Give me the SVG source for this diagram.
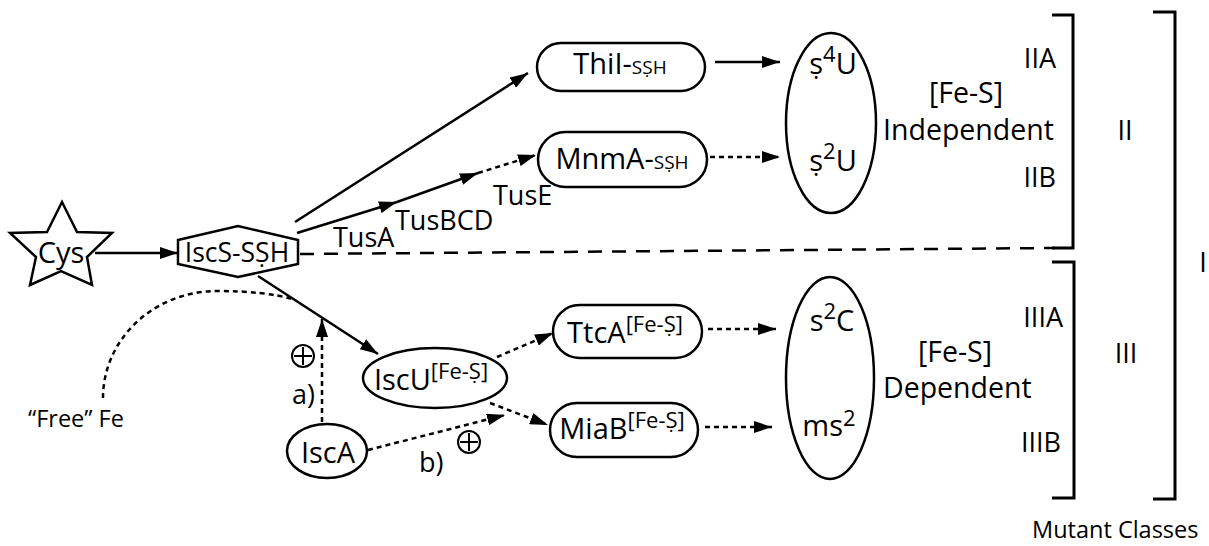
<svg xmlns="http://www.w3.org/2000/svg" width="1209" height="546" viewBox="0 0 1209 546">
  <defs>
    <marker id="ah" viewBox="0 0 18 12" refX="18" refY="6" markerWidth="18" markerHeight="12" orient="auto" markerUnits="userSpaceOnUse">
      <path d="M0,0 L18,6 L0,12 z" fill="#000"/>
    </marker>
    <style>
      text { font-family: "Open Sans", "Liberation Sans", sans-serif; fill: #000; }
      .lbl { font-size: 29px; }
      .sm { font-size: 19px; }
      .sup { font-size: 22px; }
      .side { font-size: 27px; }
      .shape { fill: #fff; stroke: #000; stroke-width: 2.5; }
      .solid { fill: none; stroke: #000; stroke-width: 2.5; }
      .dot { fill: none; stroke: #000; stroke-width: 2.5; stroke-dasharray: 5 4; }
      .dash { fill: none; stroke: #000; stroke-width: 2.5; stroke-dasharray: 14 10; }
      .brk { fill: none; stroke: #000; stroke-width: 3; }
      .plus { fill: none; stroke: #000; stroke-width: 2; }
    </style>
  </defs>

  <!-- connectors -->
  <g id="connectors">
    <line class="solid" x1="95" y1="253" x2="178" y2="253" marker-end="url(#ah)"/>
    <line class="dash" x1="300" y1="254" x2="1055" y2="248"/>
    <line class="solid" x1="295" y1="222" x2="528" y2="73" marker-end="url(#ah)"/>
    <line class="solid" x1="297" y1="233" x2="397" y2="202" marker-end="url(#ah)"/>
    <line class="solid" x1="397" y1="202" x2="478" y2="173" marker-end="url(#ah)"/>
    <line class="dot" x1="478" y1="173" x2="536" y2="155" marker-end="url(#ah)"/>
    <line class="solid" x1="715" y1="62" x2="780" y2="62" marker-end="url(#ah)"/>
    <line class="dot" x1="710" y1="157" x2="780" y2="157" marker-end="url(#ah)"/>
    <line class="solid" x1="258" y1="276" x2="378" y2="354" marker-end="url(#ah)"/>
    <path class="dot" d="M103,398 A114,107 0 0 1 217,291 C250,291 275,294 292,299"/>
    <line class="dot" x1="322" y1="422" x2="322" y2="319" marker-end="url(#ah)"/>
    <line class="dot" x1="368" y1="450" x2="505" y2="415" marker-end="url(#ah)"/>
    <line class="dot" x1="497" y1="357" x2="553" y2="333" marker-end="url(#ah)"/>
    <line class="dot" x1="490" y1="403" x2="548" y2="425" marker-end="url(#ah)"/>
    <line class="dot" x1="708" y1="329" x2="776" y2="329" marker-end="url(#ah)"/>
    <line class="dot" x1="705" y1="427" x2="772" y2="427" marker-end="url(#ah)"/>
  </g>

  <!-- activation signs -->
  <g id="plus-a">
    <circle class="plus" cx="303" cy="356" r="11"/>
    <path class="plus" d="M294,356 H312 M303,347 V365"/>
  </g>
  <g id="plus-b">
    <circle class="plus" cx="469" cy="442" r="11"/>
    <path class="plus" d="M460,442 H478 M469,433 V451"/>
  </g>

  <!-- nodes -->
  <g id="cys">
    <polygon class="shape" points="62,202 77,232 112,233 87,257 92,285 61,271 30,285 36,257 10,233 47,232"/>
    <text x="61" y="263" text-anchor="middle" font-size="29">Cys</text>
  </g>

  <g id="iscs">
    <polygon class="shape" points="178,240 238,226 298,240 298,264 238,277 178,264"/>
    <text x="237" y="262" text-anchor="middle" font-size="26.5">IscS-SṢH</text>
  </g>

  <g id="tus-labels">
    <text x="333" y="247" font-size="27">TusA</text>
    <text x="395" y="230" font-size="27">TusBCD</text>
    <text x="493" y="205" font-size="27">TusE</text>
  </g>

  <g id="thii">
    <rect class="shape" x="537" y="43" width="168" height="48" rx="24"/>
    <text class="lbl" x="620" y="74" text-anchor="middle">ThiI-<tspan class="sm">SṢH</tspan></text>
  </g>

  <g id="mnma">
    <rect class="shape" x="538" y="132" width="169" height="55" rx="27.5"/>
    <text class="lbl" x="622" y="169" text-anchor="middle">MnmA-<tspan class="sm">SṢH</tspan></text>
  </g>

  <g id="iscu">
    <ellipse class="shape" cx="435" cy="378" rx="72" ry="30"/>
    <text class="lbl" x="431" y="390" text-anchor="middle">IscU<tspan class="sup" dy="-11">[Fe-Ṣ]</tspan></text>
  </g>

  <g id="isca">
    <ellipse class="shape" cx="327" cy="451" rx="40" ry="27"/>
    <text class="lbl" x="328" y="463" text-anchor="middle">IscA</text>
  </g>

  <g id="ttca">
    <rect class="shape" x="553" y="305" width="149" height="53" rx="26.5"/>
    <text class="lbl" x="625" y="343" text-anchor="middle">TtcA<tspan class="sup" dy="-11">[Fe-Ṣ]</tspan></text>
  </g>

  <g id="miab">
    <rect class="shape" x="550" y="403" width="148" height="54" rx="27"/>
    <text class="lbl" x="622" y="439" text-anchor="middle">MiaB<tspan class="sup" dy="-11">[Fe-Ṣ]</tspan></text>
  </g>

  <g id="free-fe">
    <text x="28" y="427" font-size="23.5">“Free” Fe</text>
  </g>

  <g id="route-labels">
    <text x="292" y="404" font-size="27">a)</text>
    <text x="419" y="472" font-size="27">b)</text>
  </g>

  <g id="fes-independent">
    <ellipse class="shape" cx="831" cy="123" rx="45" ry="90"/>
    <text class="lbl" x="833" y="74" text-anchor="middle">ṣ<tspan class="sup" dy="-12">4</tspan><tspan dy="12">U</tspan></text>
    <text class="lbl" x="833" y="171" text-anchor="middle">ṣ<tspan class="sup" dy="-12">2</tspan><tspan dy="12">U</tspan></text>
  </g>

  <g id="fes-dependent">
    <ellipse class="shape" cx="830" cy="378" rx="44" ry="101"/>
    <text class="lbl" x="832" y="331" text-anchor="middle">s<tspan class="sup" dy="-12">2</tspan><tspan dy="12">C</tspan></text>
    <text class="lbl" x="829" y="436" text-anchor="middle">ms<tspan class="sup" dy="-10">2</tspan></text>
  </g>

  <g id="class-labels">
    <text x="966" y="103" text-anchor="middle" font-size="28.5">[Fe-S]</text>
    <text x="883" y="140" font-size="28.5">Independent</text>
    <text x="955" y="362" text-anchor="middle" font-size="28.5">[Fe-S]</text>
    <text x="883" y="398" font-size="28.5">Dependent</text>
    <text class="side" x="1056" y="68" text-anchor="end">IIA</text>
    <text class="side" x="1056" y="187" text-anchor="end">IIB</text>
    <text class="side" x="1063" y="327" text-anchor="end">IIIA</text>
    <text class="side" x="1061" y="452" text-anchor="end">IIIB</text>
  </g>

  <g id="brackets">
    <path class="brk" d="M1052,15 H1073 V248 H1052"/>
    <path class="brk" d="M1052,262 H1074 V498 H1052"/>
    <path class="brk" d="M1153,12 H1175 V499 H1153"/>
    <text class="side" x="1125" y="140" text-anchor="middle">II</text>
    <text class="side" x="1126" y="363" text-anchor="middle">III</text>
    <text class="side" x="1203" y="272" text-anchor="middle">I</text>
    <text x="1032" y="538" font-size="23.5">Mutant Classes</text>
  </g>
</svg>
